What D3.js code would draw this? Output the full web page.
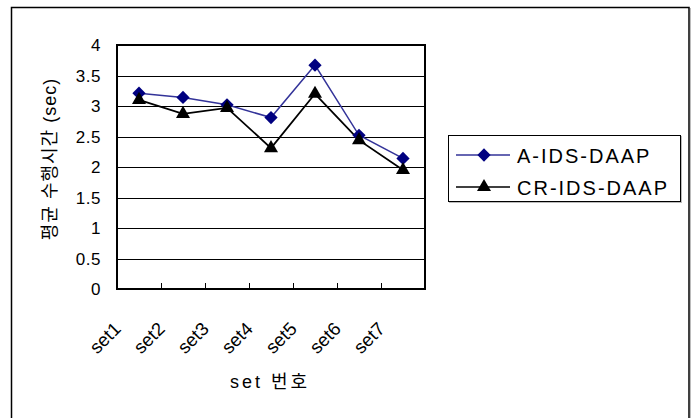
<!DOCTYPE html>
<html>
<head>
<meta charset="utf-8">
<script src="https://cdn.jsdelivr.net/npm/d3@7"></script>
<style>
  html, body { margin: 0; padding: 0; background: #fff; }
  svg { display: block; }
  text { font-family: "Liberation Sans", Arial, "Noto Sans CJK KR", sans-serif; fill: #000; }
</style>
</head>
<body>
<svg id="chart" width="698" height="418"></svg>
<script>
const categories = ["set1", "set2", "set3", "set4", "set5", "set6", "set7"];
const seriesNames = ["A-IDS-DAAP", "CR-IDS-DAAP"];
const aIdsDaap = [3.21, 3.14, 3.02, 2.81, 3.67, 2.52, 2.14];
const crIdsDaap = [3.10, 2.87, 2.97, 2.31, 3.20, 2.44, 1.95];
const yTicks = [0, 0.5, 1, 1.5, 2, 2.5, 3, 3.5, 4];
const yTickLabels = ["0", "0.5", "1", "1.5", "2", "2.5", "3", "3.5", "4"];
const yTitle = "평균 수행시간 (sec)";
const xTitle = "set 번호";

const svg = d3.select("#chart");
const plot = { left: 117, right: 425, top: 45, bottom: 289 };

// outer frame
svg.append("rect").attr("x", 11.5).attr("y", 7.5).attr("width", 677.5).attr("height", 430)
  .attr("fill", "none").attr("stroke", "#000").attr("stroke-width", 1.5);
svg.append("line").attr("x1", 690.5).attr("x2", 690.5).attr("y1", 8).attr("y2", 418)
  .attr("stroke", "#bbb").attr("stroke-width", 1);

const x = d3.scaleBand().domain(categories).range([plot.left, plot.right]).padding(0);
const y = d3.scaleLinear().domain([0, 4]).range([plot.bottom, plot.top]);
const cx = c => x(c) + x.bandwidth() / 2;

// gridlines
svg.append("g").selectAll("line").data(yTicks.filter(t => t > 0 && t < 4)).join("line")
  .attr("x1", plot.left).attr("x2", plot.right)
  .attr("y1", d => Math.round(y(d)) + 0.5).attr("y2", d => Math.round(y(d)) + 0.5)
  .attr("stroke", "#000").attr("stroke-width", 1);

// plot border
svg.append("rect").attr("x", plot.left).attr("y", plot.top)
  .attr("width", plot.right - plot.left).attr("height", plot.bottom - plot.top)
  .attr("fill", "none").attr("stroke", "#000").attr("stroke-width", 2);

// x ticks (inward) at category boundaries
svg.append("g").selectAll("line").data(categories.slice(1)).join("line")
  .attr("x1", d => Math.round(x(d)) + 0.5).attr("x2", d => Math.round(x(d)) + 0.5)
  .attr("y1", plot.bottom).attr("y2", plot.bottom - 6)
  .attr("stroke", "#000").attr("stroke-width", 1);

// y tick labels
svg.append("g").selectAll("text").data(yTicks).join("text")
  .attr("x", 101).attr("y", d => y(d)).attr("dy", "0.36em")
  .attr("text-anchor", "end").attr("font-size", 17).attr("letter-spacing", 0.5)
  .text((d, i) => yTickLabels[i]);

// x tick labels (rotated)
svg.append("g").selectAll("text").data(categories).join("text")
  .attr("transform", d => `translate(${x(d) + 5},330) rotate(-45)`)
  .attr("text-anchor", "end").attr("font-size", 18.5)
  .text(d => d);

// axis titles
svg.append("text").attr("transform", "translate(56,159) rotate(-90)")
  .attr("text-anchor", "middle").attr("font-size", 18).attr("letter-spacing", 1)
  .text(yTitle);
svg.append("text").attr("x", 270).attr("y", 388)
  .attr("text-anchor", "middle").attr("font-size", 18).attr("letter-spacing", 3)
  .text(xTitle);

// series
const line = d3.line().x((d, i) => cx(categories[i])).y(d => y(d));
const diamond = d3.symbol().type(d3.symbolSquare).size(88);
const triangle = d3.symbol().type(d3.symbolTriangle).size(85);

svg.append("path").datum(aIdsDaap).attr("d", line)
  .attr("fill", "none").attr("stroke", "#333399").attr("stroke-width", 1.5);
svg.append("path").datum(crIdsDaap).attr("d", line)
  .attr("fill", "none").attr("stroke", "#000").attr("stroke-width", 1.8);

svg.append("g").selectAll("path").data(aIdsDaap).join("path")
  .attr("transform", (d, i) => `translate(${cx(categories[i])},${y(d)}) rotate(45)`)
  .attr("d", diamond).attr("fill", "#000080");
svg.append("g").selectAll("path").data(crIdsDaap).join("path")
  .attr("transform", (d, i) => `translate(${cx(categories[i])},${y(d)})`)
  .attr("d", triangle).attr("fill", "#000");

// legend
const lg = svg.append("g");
lg.append("rect").attr("x", 449.5).attr("y", 136.5).attr("width", 232).attr("height", 66)
  .attr("fill", "none").attr("stroke", "#bbb").attr("stroke-width", 1);
lg.append("rect").attr("x", 448.5).attr("y", 135.5).attr("width", 232).attr("height", 66)
  .attr("fill", "#fff").attr("stroke", "#000").attr("stroke-width", 1);
const rows = [
  { name: seriesNames[0], color: "#333399", mcolor: "#000080", sym: diamond, rot: 45, yy: 155 },
  { name: seriesNames[1], color: "#000", mcolor: "#000", sym: triangle, rot: 0, yy: 187 }
];
rows.forEach(r => {
  lg.append("line").attr("x1", 456).attr("x2", 510).attr("y1", r.yy).attr("y2", r.yy)
    .attr("stroke", r.color).attr("stroke-width", 1.5);
  lg.append("path").attr("transform", `translate(484,${r.yy}) rotate(${r.rot})`)
    .attr("d", r.sym).attr("fill", r.mcolor);
  lg.append("text").attr("x", 517).attr("y", r.yy + 7.5).attr("font-size", 20)
    .attr("letter-spacing", 2).text(r.name);
});
</script>
</body>
</html>
